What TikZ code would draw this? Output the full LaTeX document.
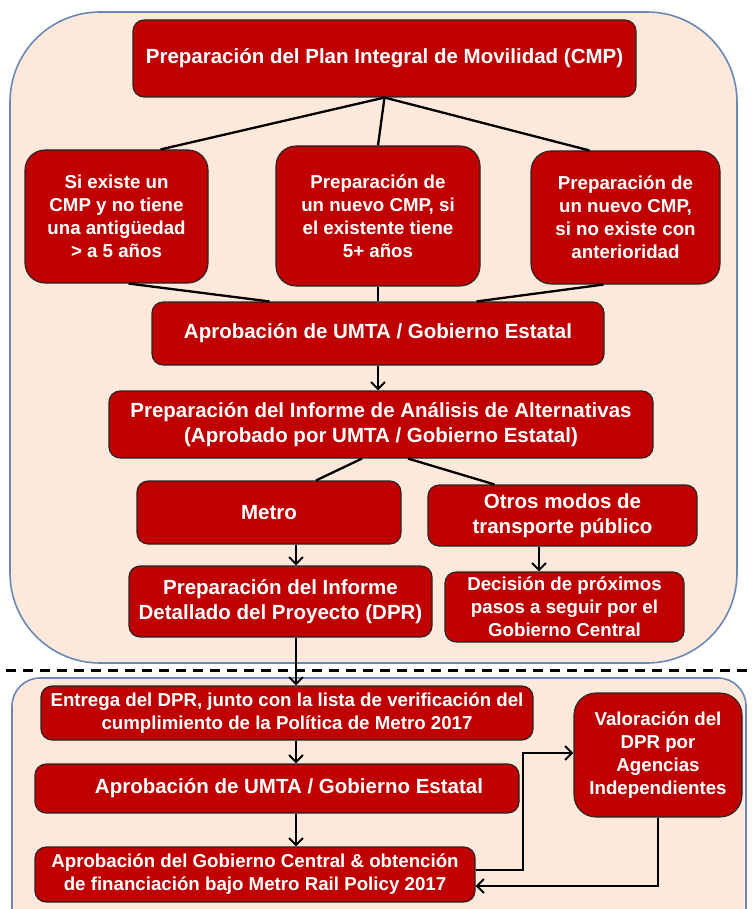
\documentclass[tikz,border=0pt]{standalone}
\usepackage{fontspec}
\setmainfont{Liberation Sans}
\usetikzlibrary{shapes,arrows.meta}
\definecolor{boxred}{HTML}{C00000}
\definecolor{panel}{HTML}{FCE9DB}
\definecolor{panelline}{HTML}{6A88B4}
\tikzset{x=1pt,y=-1pt,
  box/.style={draw=black!85,line width=1.1pt,fill=boxred,text=white,align=center,inner sep=2pt,
    rounded corners=11pt,font=\bfseries\fontsize{20.5}{25}\selectfont},
  sbox/.style={box,font=\bfseries\fontsize{18.7}{23}\selectfont},
  link/.style={line width=2.3pt},
  arr/.style={link,-{Straight Barb[length=7pt,width=14pt,line width=2pt]}},
  panelbox/.style={draw=panelline,line width=1.6pt,fill=panel}}

\begin{document}
\begin{tikzpicture}
    \useasboundingbox (0,0) rectangle (754,909);
    \draw[panelbox,rounded corners=90pt] (10,12) rectangle (737,663);
    \draw[panelbox,rounded corners=28pt] (12,678) rectangle (746,960);
    \draw[line width=3pt,dash pattern=on 10pt off 7pt] (6,670) -- (754,670);

    \node[box,minimum width=503pt,minimum height=77pt] (plan) at (384.5,58.5)
        {Preparación del Plan Integral de Movilidad (CMP)};
    \node[sbox,rounded corners=20pt,minimum width=183pt,minimum height=133pt] (si) at (116.5,216.5)
        {Si existe un\\CMP y no tiene\\una antigüedad\\> a 5 años};
    \node[sbox,rounded corners=20pt,minimum width=204pt,minimum height=140pt] (nuevo) at (378,216)
        {Preparación de\\un nuevo CMP, si\\el existente tiene\\5+ años};
    \node[sbox,rounded corners=20pt,minimum width=189pt,minimum height=133pt] (noexiste) at (625.5,217.5)
        {Preparación de\\un nuevo CMP,\\si no existe con\\anterioridad};
    \node[box,minimum width=452pt,minimum height=63pt] (umta) at (378,333.5)
        {Aprobación de UMTA / Gobierno Estatal};
    \node[box,minimum width=544pt,minimum height=67pt] (alt) at (381,424.5)
        {Preparación del Informe de Análisis de Alternativas\\(Aprobado por UMTA / Gobierno Estatal)};
    \node[box,minimum width=264pt,minimum height=63pt] (metro) at (269,512.5) {Metro};
    \node[box,minimum width=269pt,minimum height=61pt] (otros) at (562.5,515.5)
        {Otros modos de\\transporte público};
    \node[box,minimum width=303pt,minimum height=71pt] (dpr) at (280.5,601.5)
        {Preparación del Informe\\Detallado del Proyecto (DPR)};
    \node[sbox,minimum width=239pt,minimum height=70pt] (decision) at (564.5,607)
        {Decisión de próximos\\pasos a seguir por el\\Gobierno Central};
    \node[sbox,minimum width=492pt,minimum height=54pt] (entrega) at (287,713)
        {Entrega del DPR, junto con la lista de verificación del\\cumplimiento de la Política de Metro 2017};
    \node[box,minimum width=484pt,minimum height=49pt] (umtab) at (277,788.5)
        {\hspace*{24pt}Aprobación de UMTA / Gobierno Estatal};
    \node[sbox,minimum width=440pt,minimum height=55pt] (central) at (255,874.5)
        {Aprobación del Gobierno Central \& obtención\\de financiación bajo Metro Rail Policy 2017};
    \node[sbox,rounded corners=22pt,minimum width=168pt,minimum height=124pt] (valor) at (658,755)
        {Valoración del\\DPR por\\Agencias\\Independientes};

    \coordinate (trunk) at (296,0);
    \coordinate (knee) at (523,0);
    \draw[link] (plan.south) -- ([xshift=-48pt]si.north east);
    \draw[link] (plan.south) -- (nuevo.north);
    \draw[link] (plan.south) -- ([xshift=59pt]noexiste.north west);
    \draw[link] ([xshift=12pt]si.south) -- ([xshift=118pt]umta.north west);
    \draw[link] (nuevo.south) -- (umta.north);
    \draw[link] ([xshift=-22pt]noexiste.south) -- ([xshift=-128pt]umta.north east);
    \draw[arr] (umta.south) -- (umta.south |- alt.north);
    \draw[link] ([xshift=-19pt]alt.south) -- ([xshift=47pt]metro.north);
    \draw[link] ([xshift=27pt]alt.south) -- ([xshift=67pt]otros.north west);
    \draw[arr] (trunk |- metro.south) -- (trunk |- dpr.north);
    \draw[arr] ([xshift=-23.5pt]otros.south) -- ([xshift=-23.5pt]otros.south |- decision.north);
    \draw[arr] (trunk |- dpr.south) -- (trunk |- entrega.north);
    \draw[arr] (trunk |- entrega.south) -- (trunk |- umtab.north);
    \draw[arr] (trunk |- umtab.south) -- (trunk |- central.north);
    \draw[arr] ([yshift=4.5pt]central.east) -| ([yshift=2pt]knee |- valor.west) -- ([yshift=2pt]valor.west);
    \draw[arr] (valor.south) |- ([yshift=-11.5pt]central.east);
\end{tikzpicture}
\end{document}
